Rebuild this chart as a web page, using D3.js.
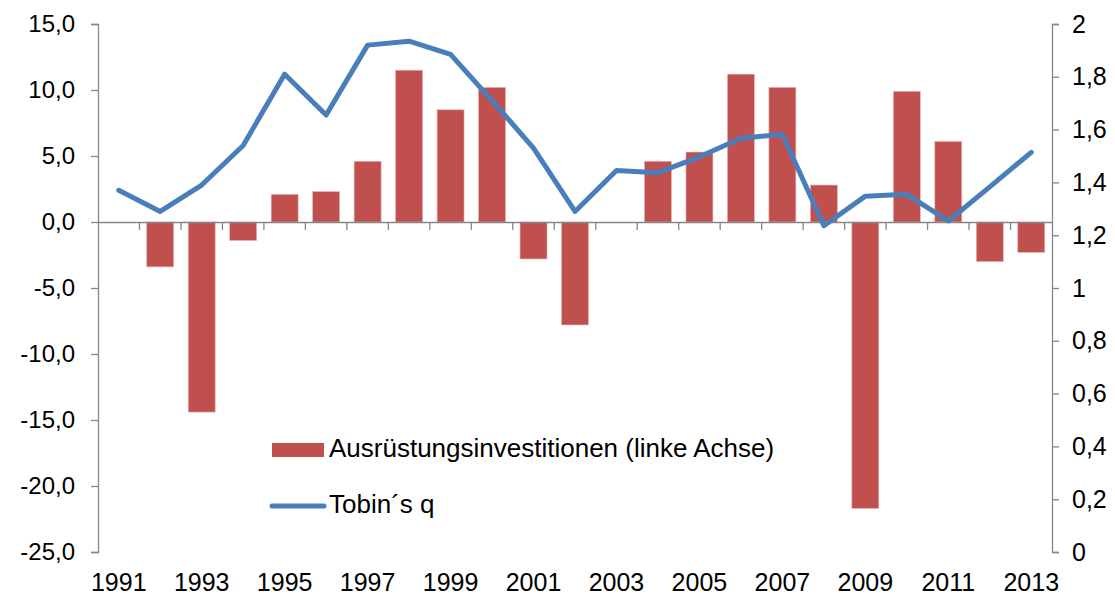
<!DOCTYPE html>
<html>
<head>
<meta charset="utf-8">
<script src="https://cdn.jsdelivr.net/npm/d3@7"></script>
<style>
  html, body { margin: 0; padding: 0; background: #fff; }
  svg text { font-family: 'Liberation Sans', Arial, sans-serif; fill: #000; }
</style>
</head>
<body>
<div id="chart"></div>
<script>
const years = ['1991', '1992', '1993', '1994', '1995', '1996', '1997', '1998', '1999', '2000',
  '2001', '2002', '2003', '2004', '2005', '2006', '2007', '2008', '2009', '2010', '2011', '2012', '2013'];

// Ausrüstungsinvestitionen, % (left axis); null = no bar
const investments = [null, -3.4, -14.4, -1.4, 2.1, 2.3, 4.6, 11.5, 8.5, 10.2,
  -2.8, -7.8, null, 4.6, 5.3, 11.2, 10.2, 2.8, -21.7, 9.9, 6.1, -3.0, -2.3];

// Tobin's q (right axis)
const tobinQ = [1.37, 1.29, 1.39, 1.54, 1.81, 1.655, 1.92, 1.935, 1.885, 1.71,
  1.53, 1.29, 1.445, 1.437, 1.497, 1.567, 1.582, 1.236, 1.348, 1.355, 1.254, 1.383, 1.514];

const leftTicks = [-25, -20, -15, -10, -5, 0, 5, 10, 15];
const rightTicks = [0, 0.2, 0.4, 0.6, 0.8, 1, 1.2, 1.4, 1.6, 1.8, 2];
const xLabelYears = years.filter((d, i) => i % 2 === 0);

const legendBars = 'Ausrüstungsinvestitionen (linke Achse)';
const legendLine = 'Tobin´s q';

const width = 1115, height = 595;
const margin = { top: 24, right: 63, bottom: 43, left: 98 };
const innerW = width - margin.left - margin.right;
const innerH = height - margin.top - margin.bottom;

const svg = d3.select('#chart').append('svg')
  .attr('width', width)
  .attr('height', height);

const g = svg.append('g').attr('transform', `translate(${margin.left},${margin.top})`);

const xc = d3.scaleBand().domain(years).range([0, innerW]);
const yL = d3.scaleLinear().domain([-25, 15]).range([innerH, 0]);
const yR = d3.scaleLinear().domain([0, 2]).range([innerH, 0]);

const barW = xc.bandwidth() * 0.65;
const axisColor = '#868686';
// German style numbers: comma decimal, plain hyphen for minus
const fmt = (spec) => {
  const f = d3.format(spec);
  return (d) => f(d).replace('.', ',').replace('−', '-');
};

// bars
const barData = years.map((y, i) => ({ year: y, v: investments[i] })).filter(d => d.v !== null);
g.selectAll('rect.bar')
  .data(barData)
  .enter()
  .append('rect')
  .attr('class', 'bar')
  .attr('x', d => xc(d.year) + (xc.bandwidth() - barW) / 2)
  .attr('width', barW)
  .attr('y', d => yL(Math.max(0, d.v)))
  .attr('height', d => Math.abs(yL(d.v) - yL(0)))
  .attr('fill', '#C0504D')
  .attr('stroke', '#e8b4b3')
  .attr('stroke-width', 0.6);

// left axis
const leftAxis = g.append('g')
  .call(d3.axisLeft(yL).tickValues(leftTicks).tickSize(7).tickPadding(16).tickFormat(fmt('.1f')));
leftAxis.selectAll('text').style('font-size', '24px');

// right axis
const rightAxis = g.append('g')
  .attr('transform', `translate(${innerW},0)`)
  .call(d3.axisRight(yR).tickValues(rightTicks).tickSize(7).tickPadding(13).tickFormat(fmt('~g')));
rightAxis.selectAll('text').style('font-size', '25px');

// zero line with category ticks
const zeroAxis = g.append('g')
  .attr('transform', `translate(0,${yL(0)})`)
  .call(d3.axisBottom(xc).tickValues([]).tickSizeOuter(0));
zeroAxis.selectAll('line.cat')
  .data(years.slice(1))
  .enter()
  .append('line')
  .attr('class', 'cat')
  .attr('x1', d => xc(d)).attr('x2', d => xc(d))
  .attr('y1', 0).attr('y2', 8);

[leftAxis, rightAxis, zeroAxis].forEach(a => {
  a.selectAll('path, line').attr('stroke', axisColor).attr('stroke-width', 1.3);
});

// year labels under the plot
g.selectAll('text.year')
  .data(xLabelYears)
  .enter()
  .append('text')
  .attr('class', 'year')
  .attr('x', d => xc(d) + xc.bandwidth() / 2)
  .attr('y', innerH + 39)
  .attr('text-anchor', 'middle')
  .style('font-size', '25px')
  .text(d => d);

// Tobin's q line
const line = d3.line()
  .x((d, i) => xc(years[i]) + xc.bandwidth() / 2)
  .y(d => yR(d));

g.append('path')
  .datum(tobinQ)
  .attr('fill', 'none')
  .attr('stroke', '#4A7EBB')
  .attr('stroke-width', 5)
  .attr('stroke-linejoin', 'round')
  .attr('stroke-linecap', 'round')
  .attr('d', line);

// legend
const legend = svg.append('g').attr('transform', 'translate(272,0)');
legend.append('rect')
  .attr('x', 0).attr('y', 443).attr('width', 52).attr('height', 14)
  .attr('fill', '#C0504D');
legend.append('text')
  .attr('x', 57).attr('y', 457)
  .style('font-size', '26px')
  .text(legendBars);
legend.append('line')
  .attr('x1', 0).attr('x2', 52).attr('y1', 506).attr('y2', 506)
  .attr('stroke', '#4A7EBB').attr('stroke-width', 5).attr('stroke-linecap', 'round');
legend.append('text')
  .attr('x', 57).attr('y', 513)
  .style('font-size', '26px')
  .text(legendLine);
</script>
</body>
</html>
